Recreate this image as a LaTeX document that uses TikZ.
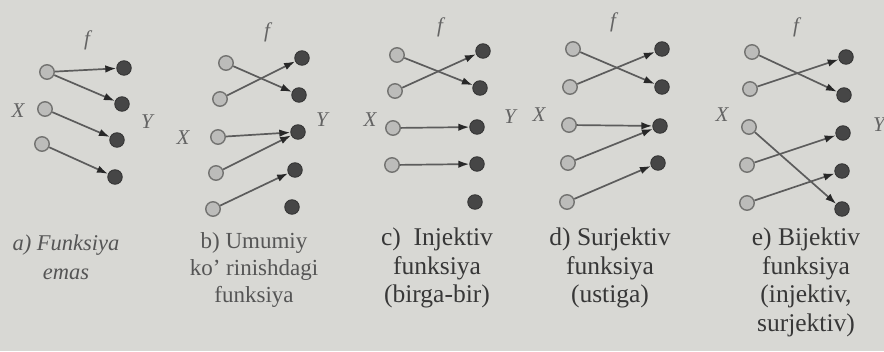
\documentclass[tikz,border=0pt]{standalone}
\usepackage{fontspec}
\setmainfont{Liberation Serif}
\usetikzlibrary{arrows.meta}
\definecolor{paper}{RGB}{216,216,212}
\definecolor{xfill}{RGB}{188,188,186}
\definecolor{xline}{RGB}{115,115,113}
\definecolor{yfill}{RGB}{70,70,70}
\definecolor{edgec}{RGB}{92,92,92}
\definecolor{tipc}{RGB}{40,40,40}
\definecolor{labc}{RGB}{100,100,100}
\definecolor{capc}{RGB}{55,55,55}
\definecolor{capl}{RGB}{85,85,85}
\tikzset{
  xpt/.style={circle,draw=xline,fill=xfill,line width=1.4pt,minimum size=14.5pt,inner sep=0pt},
  ypt/.style={circle,draw=yfill!75!black,fill=yfill,line width=0.9pt,minimum size=14.5pt,inner sep=0pt},
  mapar/.style={draw=edgec,line width=1.7pt,-{Latex[length=11pt,width=7.5pt,color=tipc]},shorten >=0pt},
  lab/.style={text=labc,font=\fontsize{21}{21}\selectfont\itshape,inner sep=0pt},
  capsmall/.style={text=capl,align=center,anchor=north,inner sep=0pt,font=\fontsize{23}{27}\selectfont},
  capbig/.style={text=capc,align=center,anchor=north,inner sep=0pt,font=\fontsize{25.5}{28.5}\selectfont}
}
\begin{document}
\begin{tikzpicture}[x=1pt,y=-1pt]
\fill[paper] (0,0) rectangle (884,351);
\useasboundingbox (0,0) rectangle (884,351);
% panel a
\node[xpt] (a1) at (47,72) {};
\node[xpt] (a2) at (45,109) {};
\node[xpt] (a3) at (42,144) {};
\node[ypt] (ay1) at (124,68) {};
\node[ypt] (ay2) at (122,104) {};
\node[ypt] (ay3) at (117,140) {};
\node[ypt] (ay4) at (115,177) {};
\node[lab] (af) at (87,40) {f};
\node[lab] (aX) at (18,111) {X};
\node[lab] (aY) at (147,122) {Y};
\draw[mapar] (a1) -- (ay1);
\draw[mapar] (a1) -- (ay2);
\draw[mapar] (a2) -- (ay3);
\draw[mapar] (a3) -- (ay4);
% panel b
\node[xpt] (b1) at (226,63) {};
\node[xpt] (b2) at (220,99) {};
\node[xpt] (b3) at (218,137) {};
\node[xpt] (b4) at (216,173) {};
\node[xpt] (b5) at (213,209) {};
\node[ypt] (by1) at (302,58) {};
\node[ypt] (by2) at (299,95) {};
\node[ypt] (by3) at (298,132) {};
\node[ypt] (by4) at (295,170) {};
\node[ypt] (by5) at (292,207) {};
\node[lab] (bf) at (267,32) {f};
\node[lab] (bX) at (183,138) {X};
\node[lab] (bY) at (322,120) {Y};
\draw[mapar] (b1) -- (by2);
\draw[mapar] (b2) -- (by1);
\draw[mapar] (b3) -- (by3);
\draw[mapar] (b4) -- (by3);
\draw[mapar] (b5) -- (by4);
% panel c
\node[xpt] (c1) at (397,55) {};
\node[xpt] (c2) at (395,91) {};
\node[xpt] (c3) at (393,128) {};
\node[xpt] (c4) at (392,165) {};
\node[ypt] (cy1) at (483,51) {};
\node[ypt] (cy2) at (480,88) {};
\node[ypt] (cy3) at (477,127) {};
\node[ypt] (cy4) at (477,164) {};
\node[ypt] (cy5) at (475,202) {};
\node[lab] (cf) at (440,27) {f};
\node[lab] (cX) at (370,120) {X};
\node[lab] (cY) at (510,117) {Y};
\draw[mapar] (c1) -- (cy2);
\draw[mapar] (c2) -- (cy1);
\draw[mapar] (c3) -- (cy3);
\draw[mapar] (c4) -- (cy4);
% panel d
\node[xpt] (d1) at (573,49) {};
\node[xpt] (d2) at (570,87) {};
\node[xpt] (d3) at (569,125) {};
\node[xpt] (d4) at (568,163) {};
\node[xpt] (d5) at (567,202) {};
\node[ypt] (dy1) at (662,49) {};
\node[ypt] (dy2) at (662,87) {};
\node[ypt] (dy3) at (660,126) {};
\node[ypt] (dy4) at (658,163) {};
\node[lab] (df) at (613,22) {f};
\node[lab] (dX) at (539,115) {X};
\draw[mapar] (d1) -- (dy2);
\draw[mapar] (d2) -- (dy1);
\draw[mapar] (d3) -- (dy3);
\draw[mapar] (d4) -- (dy3);
\draw[mapar] (d5) -- (dy4);
% panel e
\node[xpt] (e1) at (752,52) {};
\node[xpt] (e2) at (750,89) {};
\node[xpt] (e3) at (749,127) {};
\node[xpt] (e4) at (747,165) {};
\node[xpt] (e5) at (747,203) {};
\node[ypt] (ey1) at (846,57) {};
\node[ypt] (ey2) at (844,95) {};
\node[ypt] (ey3) at (843,133) {};
\node[ypt] (ey4) at (842,171) {};
\node[ypt] (ey5) at (842,209) {};
\node[lab] (ef) at (796,27) {f};
\node[lab] (eX) at (722,115) {X};
\node[lab] (eY) at (879,125) {Y};
\draw[mapar] (e1) -- (ey2);
\draw[mapar] (e2) -- (ey1);
\draw[mapar] (e3) -- (ey5);
\draw[mapar] (e4) -- (ey3);
\draw[mapar] (e5) -- (ey4);
% captions
\node[capsmall,font=\fontsize{22.5}{29}\selectfont\itshape] (capa) at (66,235) {a) Funksiya\\emas};
\node[capsmall] (capb) at (254,232) {b) Umumiy\\ko' rinishdagi\\funksiya};
\node[capbig] (capc) at (437,228) {c)\ \ Injektiv\\funksiya\\(birga-bir)};
\node[capbig] (capd) at (610,228) {d) Surjektiv\\funksiya\\(ustiga)};
\node[capbig] (cape) at (806,228) {e) Bijektiv\\funksiya\\(injektiv,\\surjektiv)};
\end{tikzpicture}
\end{document}
